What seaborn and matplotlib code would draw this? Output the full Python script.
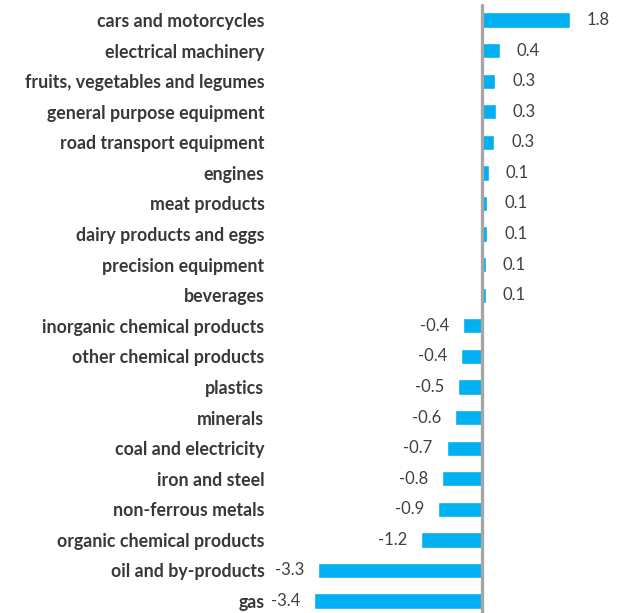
import matplotlib
matplotlib.use("Agg")
import matplotlib.pyplot as plt
import seaborn as sns
import pandas as pd

categories = [
    "cars and motorcycles", "electrical machinery", "fruits, vegetables and legumes",
    "general purpose equipment", "road transport equipment", "engines",
    "meat products", "dairy products and eggs", "precision equipment", "beverages",
    "inorganic chemical products", "other chemical products", "plastics", "minerals",
    "coal and electricity", "iron and steel", "non-ferrous metals",
    "organic chemical products", "oil and by-products", "gas",
]
values = [1.78, 0.37, 0.27, 0.28, 0.25, 0.14, 0.11, 0.11, 0.08, 0.08,
          -0.39, -0.43, -0.49, -0.55, -0.72, -0.81, -0.9, -1.24, -3.33, -3.4]
labels = ["1.8", "0.4", "0.3", "0.3", "0.3", "0.1", "0.1", "0.1", "0.1", "0.1",
          "-0.4", "-0.4", "-0.5", "-0.6", "-0.7", "-0.8", "-0.9", "-1.2", "-3.3", "-3.4"]

df = pd.DataFrame({"category": categories, "value": values})

sns.set_style("white")
plt.rcParams["font.family"] = ["Lato", "DejaVu Sans"]

fig = plt.figure(figsize=(6.28, 6.13), dpi=100)
ax = fig.add_axes([270 / 628, 0, 1 - 270 / 628, 1])

sns.barplot(data=df, x="value", y="category", orient="h", color="#00B0F0",
            saturation=1, width=0.5, ax=ax)

ax.set_xlim(-4.3, 2.96)
ax.set_ylim(19.39, -0.654)
ax.axvline(0, ymin=0, ymax=0.992, color="#A6A6A6", lw=2.4)

for i, (v, lab) in enumerate(zip(values, labels)):
    off = 12 if v > 0 else -10
    ax.annotate(lab, (v, i), xytext=(off, 0), textcoords="offset points",
                ha="left" if v > 0 else "right", va="center",
                fontsize=12, color="#404040")

ax.set_xlabel("")
ax.set_ylabel("")
ax.set_xticks([])
ax.tick_params(axis="y", length=0, pad=4)
for t in ax.get_yticklabels():
    t.set_fontweight("bold")
    t.set_fontsize(12.8)
    t.set_color("#383838")
for s in ax.spines.values():
    s.set_visible(False)

fig.savefig("out.png", dpi=100)
